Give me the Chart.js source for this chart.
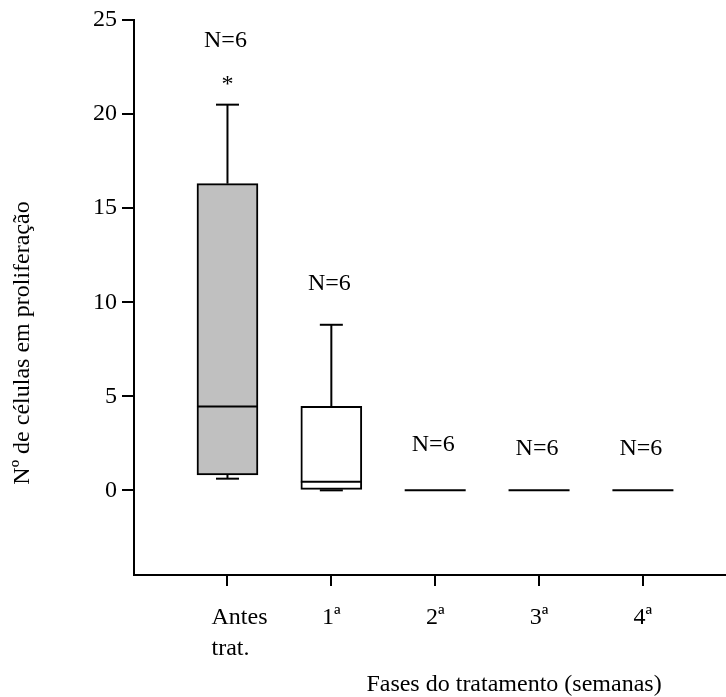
<!DOCTYPE html>
<html>
<head>
<meta charset="utf-8">
<script src="https://cdn.jsdelivr.net/npm/chart.js@4/dist/chart.umd.min.js"></script>
<style>
  html, body { margin: 0; padding: 0; background: #fff; }
  #wrap { width: 726px; height: 697px; }
</style>
</head>
<body>
<div id="wrap"><canvas id="chart"></canvas></div>
<script>
// data
// (non-breaking spaces keep "Antes" / "trat." left-aligned like the original)
const categories = [['\u00a0\u00a0\u00a0\u00a0Antes', '\u00a0\u00a0\u00a0\u00a0trat.\u00a0\u00a0\u00a0'], '1ª', '2ª', '3ª', '4ª'];
const whiskerMin = [0.62, 0, 0, 0, 0];
const q1 = [0.82, 0, 0, 0, 0];
const median = [4.45, 0.45, 0, 0, 0];
const q3 = [16.3, 4.47, 0, 0, 0];
const whiskerMax = [20.5, 8.8, 0, 0, 0];
const nLabels = ['N=6', 'N=6', 'N=6', 'N=6', 'N=6'];
const nLabelY = [23.9, 11.0, 2.4, 2.2, 2.2];
const starY = [21.8, null, null, null, null];
const yTicks = [0, 5, 10, 15, 20, 25];
const boxFill = ['#c0c0c0', '#ffffff', '#ffffff', '#ffffff', '#ffffff'];

const FONT = '"Liberation Serif", "Times New Roman", serif';
Chart.defaults.font.family = FONT;
Chart.defaults.font.size = 24;
Chart.defaults.color = '#000';

const BOX_W = 61;
const CAP_HALF = 11.5;

const boxPlot = {
  id: 'boxPlot',
  beforeDatasetsDraw(chart) {
    const { ctx, scales: { x, y } } = chart;
    ctx.save();
    ctx.strokeStyle = '#000';
    ctx.lineWidth = 2;
    categories.forEach((c, i) => {
      const px = x.getPixelForValue(i + 1);
      const segs = [[q3[i], whiskerMax[i]], [q1[i], whiskerMin[i]]];
      segs.forEach(([from, to]) => {
        const y0 = y.getPixelForValue(from);
        const y1 = y.getPixelForValue(to);
        if (Math.abs(y1 - y0) > 0.5) {
          ctx.beginPath();
          ctx.moveTo(px, y0);
          ctx.lineTo(px, y1);
          ctx.stroke();
        }
        if (whiskerMax[i] > 0) {
          ctx.beginPath();
          ctx.moveTo(px - CAP_HALF, y1);
          ctx.lineTo(px + CAP_HALF, y1);
          ctx.stroke();
        }
      });
    });
    ctx.restore();
  },
  afterDatasetsDraw(chart) {
    const { ctx, scales: { x, y } } = chart;
    ctx.save();
    ctx.strokeStyle = '#000';
    ctx.lineWidth = 2;
    categories.forEach((c, i) => {
      const px = x.getPixelForValue(i + 1);
      const py = y.getPixelForValue(median[i]);
      ctx.beginPath();
      ctx.moveTo(px - BOX_W / 2, py);
      ctx.lineTo(px + BOX_W / 2, py);
      ctx.stroke();
    });

    // N labels and the asterisk
    ctx.fillStyle = '#000';
    ctx.font = '24px ' + FONT;
    ctx.textAlign = 'center';
    ctx.textBaseline = 'middle';
    categories.forEach((c, i) => {
      const px = x.getPixelForValue(i + 1);
      ctx.fillText(nLabels[i], px - 2, y.getPixelForValue(nLabelY[i]));
      if (starY[i] !== null) {
        ctx.fillText('*', px, y.getPixelForValue(starY[i]) + 4);
      }
    });

    // axis titles
    ctx.fillText('Fases do tratamento (semanas)', 514, 685);
    ctx.translate(23, 343);
    ctx.rotate(-Math.PI / 2);
    ctx.fillText('Nº de células em proliferação', 0, 0);
    ctx.restore();
  }
};

new Chart(document.getElementById('chart'), {
  type: 'bar',
  data: {
    datasets: [{
      data: categories.map((c, i) => ({ x: i + 1, y: [q1[i], q3[i]] })),
      backgroundColor: boxFill,
      borderColor: '#000',
      borderWidth: 2,
      borderSkipped: false,
      barThickness: BOX_W
    }]
  },
  options: {
    responsive: true,
    maintainAspectRatio: false,
    animation: false,
    layout: { padding: { top: 20, right: 0, left: 0, bottom: 0 } },
    plugins: {
      legend: { display: false },
      tooltip: { enabled: false }
    },
    scales: {
      x: {
        type: 'linear',
        offset: false,
        min: 0.1,
        max: 5.8,
        afterBuildTicks: scale => {
          scale.ticks = categories.map((c, i) => ({ value: i + 1 }));
        },
        afterFit: scale => { scale.height = 122; },
        ticks: {
          callback: (v) => categories[v - 1],
          font: { size: 24, lineHeight: 1.3 },
          padding: 16,
          maxRotation: 0,
          autoSkip: false
        },
        grid: {
          offset: false,
          drawOnChartArea: false,
          tickLength: 11,
          color: '#000',
          lineWidth: 2
        },
        border: { display: true, color: '#000', width: 2 }
      },
      y: {
        min: -4.5,
        max: 25,
        afterBuildTicks: scale => {
          scale.ticks = yTicks.map(v => ({ value: v }));
        },
        afterFit: scale => { scale.width = 134; },
        ticks: { font: { size: 24 }, padding: 5 },
        grid: {
          drawOnChartArea: false,
          tickLength: 12,
          color: '#000',
          lineWidth: 2
        },
        border: { display: true, color: '#000', width: 2 }
      }
    }
  },
  plugins: [boxPlot]
});
</script>
</body>
</html>
